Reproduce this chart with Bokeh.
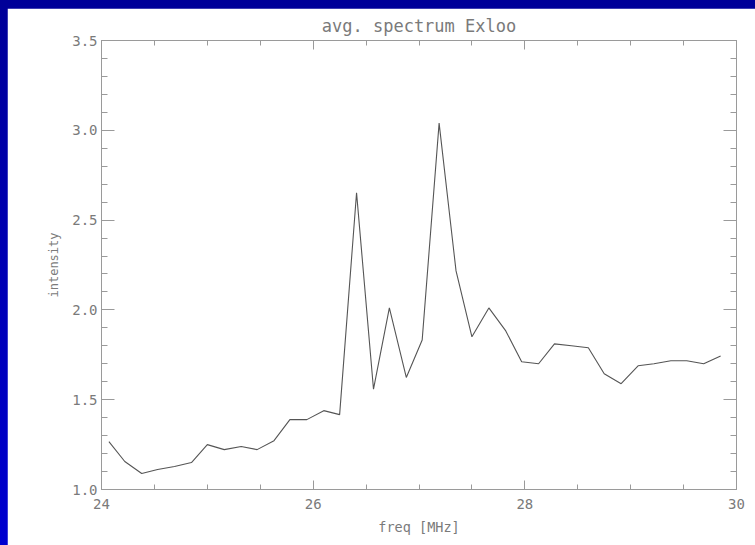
from bokeh.plotting import figure
from bokeh.models import (LinearAxis, SingleIntervalTicker, Range1d, Column,
                          NumeralTickFormatter, CustomJSTickFormatter)
from bokeh.embed import file_html
from bokeh.resources import INLINE

# data
freq = [24.07, 24.22, 24.38, 24.53, 24.69, 24.85, 25.00, 25.16, 25.32, 25.47,
        25.63, 25.78, 25.94, 26.10, 26.25, 26.41, 26.57, 26.72, 26.88, 27.03,
        27.19, 27.35, 27.50, 27.66, 27.82, 27.97, 28.13, 28.28, 28.44, 28.60,
        28.75, 28.91, 29.07, 29.22, 29.38, 29.53, 29.69, 29.85]
intensity = [1.267, 1.156, 1.089, 1.111, 1.128, 1.150, 1.250, 1.222, 1.239, 1.222,
             1.272, 1.389, 1.389, 1.439, 1.417, 2.652, 1.559, 2.011, 1.624, 1.832,
             3.040, 2.217, 1.850, 2.011, 1.883, 1.711, 1.700, 1.811, 1.800, 1.789,
             1.644, 1.589, 1.689, 1.700, 1.717, 1.717, 1.700, 1.744]
title_text = "avg. spectrum Exloo"
x_label = "freq [MHz]"
y_label = "intensity"

FONT = "DejaVu Sans Mono"
AXC = "#9a9a9a"
TXC = "#7a7a7a"

p = figure(width=748, height=537, output_backend="svg", toolbar_location=None,
           x_range=Range1d(24, 30), y_range=Range1d(1.0, 3.5),
           min_border_left=94, min_border_right=19, min_border_top=31, min_border_bottom=56,
           background_fill_color="white", border_fill_color="white",
           outline_line_color=None, margin=(8, 0, 0, 7))
p.frame_width = 635
p.frame_height = 450

p.title.text = title_text
p.title.align = "center"
p.title.text_font = FONT
p.title.text_font_style = "normal"
p.title.text_font_size = "17px"
p.title.text_color = TXC
p.title.offset = 0

p.grid.visible = False
p.xaxis.visible = False
p.yaxis.visible = False

def xticker():
    return SingleIntervalTicker(interval=2, num_minor_ticks=4)

def yticker():
    return SingleIntervalTicker(interval=0.5, num_minor_ticks=5)

def style(ax, major_in, minor_in, labels=True):
    ax.axis_line_color = AXC
    ax.major_tick_line_color = AXC
    ax.minor_tick_line_color = AXC
    ax.major_tick_in = major_in
    ax.major_tick_out = 0
    ax.minor_tick_in = minor_in
    ax.minor_tick_out = 0
    if labels:
        ax.major_label_text_font = FONT
        ax.major_label_text_color = TXC
        ax.major_label_text_font_size = "14px"
        ax.axis_label_text_font = FONT
        ax.axis_label_text_color = TXC
        ax.axis_label_text_font_style = "normal"
    else:
        ax.formatter = CustomJSTickFormatter(code="return '';")
        ax.major_label_standoff = 0

xb = LinearAxis(ticker=xticker(), axis_label=x_label)
style(xb, 9, 5)
xb.major_label_standoff = 9
xb.axis_label_text_font_size = "13.5px"
xb.axis_label_standoff = 7
p.add_layout(xb, "below")

yl = LinearAxis(ticker=yticker(), axis_label=y_label,
                formatter=NumeralTickFormatter(format="0.0"))
style(yl, 13, 6)
yl.major_label_standoff = 4
yl.axis_label_text_font_size = "12px"
yl.axis_label_standoff = 8
p.add_layout(yl, "left")

xt = LinearAxis(ticker=xticker())
style(xt, 9, 5, labels=False)
p.add_layout(xt, "above")

yr = LinearAxis(ticker=yticker())
style(yr, 13, 6, labels=False)
p.add_layout(yr, "right")

p.line(freq, intensity, line_color="#555555", line_width=1.1)

layout = Column(children=[p], width=755, height=545,
                styles={"background": "linear-gradient(to bottom, #000098, #0000d0)"})

open("out.html", "w").write(file_html(layout, INLINE))
